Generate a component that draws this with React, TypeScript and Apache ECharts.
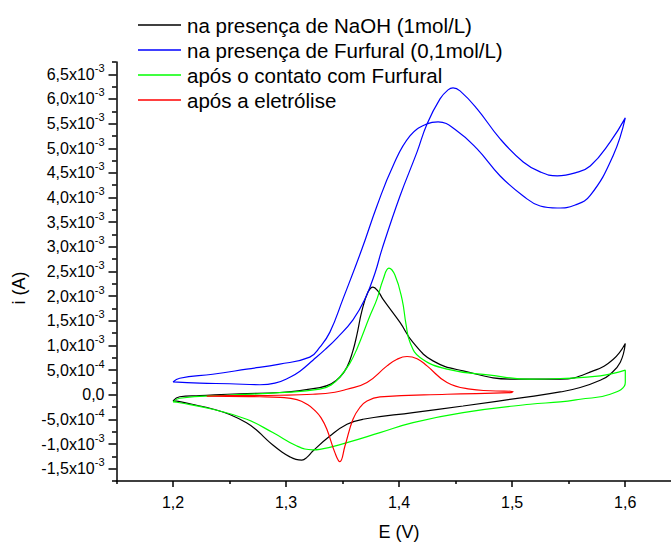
import React, { useEffect, useRef } from "react";
import * as echarts from "echarts";

// E (V), i (A)
const naohCurve: [number, number][] = [
  [1.2, -0.126e-3], [1.2059, -0.041e-3], [1.2236, -0.02e-3], [1.2591, 0.02e-3], [1.2945, 0.045e-3],
  [1.3299, 0.146e-3], [1.34, 0.22e-3], [1.3477, 0.36e-3], [1.3539, 0.56e-3], [1.359, 0.88e-3],
  [1.3627, 1.22e-3], [1.3671, 1.7e-3],
  [1.3725, 2.082e-3], [1.3769, 2.184e-3], [1.3813, 2.102e-3], [1.3857, 1.94e-3], [1.4008, 1.467e-3],
  [1.4123, 1.06e-3], [1.43, 0.687e-3], [1.4566, 0.483e-3], [1.5009, 0.315e-3], [1.5425, 0.315e-3],
  [1.5717, 0.483e-3], [1.5895, 0.721e-3], [1.6001, 1.04e-3],
  [1.5957, 0.66e-3], [1.5868, 0.416e-3], [1.5779, 0.295e-3], [1.5602, 0.146e-3], [1.5425, 0.057e-3],
  [1.5159, -0.037e-3], [1.4566, -0.228e-3], [1.4123, -0.362e-3], [1.368, -0.498e-3], [1.3539, -0.599e-3],
  [1.3388, -0.837e-3], [1.3237, -1.142e-3], [1.3184, -1.27e-3], [1.314, -1.325e-3], [1.3087, -1.31e-3],
  [1.3034, -1.26e-3], [1.2963, -1.16e-3], [1.2883, -1.02e-3], [1.281, -0.87e-3], [1.2741, -0.72e-3],
  [1.265, -0.57e-3], [1.2502, -0.4e-3], [1.235, -0.29e-3], [1.2209, -0.213e-3], [1.2059, -0.14e-3],
  [1.2, -0.126e-3],
];

const furfuralCurve: [number, number][] = [
  [1.2, 0.26e-3], [1.2236, 0.234e-3], [1.2502, 0.223e-3], [1.2768, 0.203e-3], [1.2901, 0.234e-3],
  [1.3034, 0.355e-3], [1.3123, 0.477e-3], [1.3238, 0.701e-3], [1.3344, 0.915e-3], [1.345, 1.15e-3],
  [1.3592, 1.52e-3], [1.3698, 1.94e-3], [1.3787, 2.47e-3], [1.3849, 2.955e-3], [1.4008, 4.032e-3],
  [1.4159, 4.926e-3], [1.4247, 5.494e-3], [1.4362, 6.002e-3], [1.4433, 6.185e-3], [1.4477, 6.226e-3],
  [1.4539, 6.165e-3], [1.469, 5.8e-3], [1.4894, 5.19e-3], [1.5098, 4.723e-3], [1.5248, 4.52e-3],
  [1.5399, 4.439e-3], [1.5558, 4.5e-3], [1.5691, 4.641e-3], [1.5868, 5.129e-3], [1.6001, 5.616e-3],
  [1.5894, 4.854e-3], [1.5691, 4.042e-3], [1.5558, 3.849e-3], [1.5399, 3.788e-3], [1.5248, 3.829e-3],
  [1.5098, 4.032e-3], [1.4894, 4.438e-3], [1.469, 4.987e-3], [1.4513, 5.352e-3], [1.4345, 5.535e-3],
  [1.4247, 5.494e-3], [1.4096, 5.251e-3], [1.3946, 4.642e-3], [1.3804, 3.83e-3], [1.3671, 2.955e-3],
  [1.3503, 1.94e-3], [1.3388, 1.27e-3], [1.3299, 0.965e-3], [1.321, 0.762e-3], [1.2944, 0.62e-3],
  [1.2652, 0.518e-3], [1.2351, 0.416e-3], [1.2059, 0.335e-3], [1.2, 0.26e-3],
];

const contactCurve: [number, number][] = [
  [1.2, -0.146e-3], [1.2059, -0.071e-3], [1.2476, -0.01e-3], [1.2945, 0.041e-3], [1.3299, 0.112e-3],
  [1.34, 0.2e-3], [1.3476, 0.36e-3], [1.356, 0.62e-3], [1.3627, 0.93e-3], [1.3742, 1.601e-3],
  [1.3804, 1.94e-3], [1.3857, 2.326e-3],
  [1.391, 2.57e-3], [1.3963, 2.427e-3], [1.4026, 1.94e-3], [1.4061, 1.432e-3], [1.4097, 1.06e-3],
  [1.4185, 0.756e-3], [1.4424, 0.518e-3], [1.4805, 0.396e-3], [1.5159, 0.315e-3], [1.5425, 0.329e-3],
  [1.5779, 0.382e-3], [1.6001, 0.498e-3],
  [1.6001, 0.248e-3], [1.5868, 0.01e-3], [1.5602, -0.091e-3], [1.5425, -0.146e-3], [1.5159, -0.193e-3],
  [1.4566, -0.362e-3], [1.4123, -0.565e-3], [1.3831, -0.768e-3], [1.3539, -0.971e-3], [1.3299, -1.107e-3],
  [1.3238, -1.117e-3], [1.3096, -1.04e-3], [1.2883, -0.768e-3], [1.2652, -0.498e-3], [1.2351, -0.295e-3],
  [1.2059, -0.162e-3], [1.2, -0.146e-3],
];

const electrolysisCurve: [number, number][] = [
  [1.2298, -0.03e-3], [1.2502, -0.02e-3], [1.2945, -0.01e-3], [1.3237, 0.01e-3], [1.3432, 0.051e-3],
  [1.3539, 0.112e-3], [1.3716, 0.248e-3], [1.3893, 0.585e-3], [1.3982, 0.721e-3], [1.407, 0.776e-3],
  [1.4159, 0.731e-3], [1.4247, 0.585e-3], [1.4424, 0.248e-3], [1.4628, 0.112e-3], [1.4805, 0.081e-3],
  [1.5009, 0.065e-3],
  [1.4982, 0.041e-3], [1.4424, 0.01e-3], [1.3831, -0.045e-3], [1.3716, -0.126e-3], [1.3654, -0.254e-3],
  [1.3592, -0.498e-3], [1.3521, -1.04e-3], [1.3476, -1.357e-3], [1.3432, -1.174e-3], [1.3361, -0.701e-3],
  [1.331, -0.47e-3], [1.3255, -0.32e-3], [1.319, -0.2e-3], [1.3096, -0.1e-3], [1.295, -0.055e-3],
  [1.2768, -0.041e-3], [1.2298, -0.03e-3],
];

const seriesNames = [
  "na presença de NaOH (1mol/L)",
  "na presença de Furfural (0,1mol/L)",
  "após o contato com Furfural",
  "após a eletrólise",
];
const seriesColors = ["#000000", "#0000ff", "#00ff00", "#ff0000"];

const xAxisTitle = "E (V)";
const yAxisTitle = "i (A)";
const xMajorTicks = [1.2, 1.3, 1.4, 1.5, 1.6];
const xMinorTicks = [1.15, 1.25, 1.35, 1.45, 1.55, 1.65];
const yMajorTicks = [
  -1.5e-3, -1.0e-3, -0.5e-3, 0, 0.5e-3, 1.0e-3, 1.5e-3, 2.0e-3, 2.5e-3, 3.0e-3, 3.5e-3, 4.0e-3,
  4.5e-3, 5.0e-3, 5.5e-3, 6.0e-3, 6.5e-3,
];
const yMinorTicks = [
  -1.75e-3, -1.25e-3, -0.75e-3, -0.25e-3, 0.25e-3, 0.75e-3, 1.25e-3, 1.75e-3, 2.25e-3, 2.75e-3,
  3.25e-3, 3.75e-3, 4.25e-3, 4.75e-3, 5.25e-3, 5.75e-3, 6.25e-3, 6.75e-3,
];

const FONT = "'Liberation Sans', Arial, sans-serif";

function yLabel(v: number): string {
  if (Math.abs(v) < 1e-12) return "{n|0,0}";
  const exp = Math.floor(Math.log10(Math.abs(v)) + 1e-9);
  const mant = Math.round((v / Math.pow(10, exp)) * 10) / 10;
  return `{n|${mant.toFixed(1).replace(".", ",")}x10}{s|${exp}}`;
}

export default function App() {
  const ref = useRef<HTMLDivElement>(null);
  useEffect(() => {
    if (!ref.current) return;
    const chart = echarts.init(ref.current, null, { renderer: "svg" });
    const curves = [naohCurve, furfuralCurve, contactCurve, electrolysisCurve];
    chart.setOption({
      animation: false,
      backgroundColor: "#ffffff",
      textStyle: { fontFamily: FONT },
      legend: {
        orient: "vertical",
        left: 133,
        top: 9,
        icon: "rect",
        itemWidth: 43,
        itemHeight: 1.5,
        itemGap: 3,
        data: seriesNames.map((n, k) => ({ name: n, itemStyle: { color: seriesColors[k] } })),
        textStyle: { fontFamily: FONT, fontSize: 20.5, color: "#000", lineHeight: 22, padding: [0, 0, 0, 1] },
      },
      graphic: [
        {
          type: "text",
          x: 19,
          y: 288,
          rotation: Math.PI / 2,
          style: {
            text: yAxisTitle,
            fontFamily: FONT,
            fontSize: 18,
            fill: "#000",
            align: "center",
            verticalAlign: "middle",
          },
        },
      ],
      grid: { left: 116.5, right: -10.7, top: 62, bottom: 62, containLabel: false, outerBoundsMode: "none" },
      xAxis: [
        {
          type: "value",
          min: 1.15,
          max: 1.65,
          position: "bottom",
          name: xAxisTitle,
          nameLocation: "middle",
          nameGap: 42,
          nameTextStyle: { fontFamily: FONT, fontSize: 18, color: "#000" },
          axisLine: { show: true, onZero: false, lineStyle: { color: "#000", width: 1.5 } },
          axisTick: { show: true, length: 6, customValues: xMajorTicks, lineStyle: { color: "#000", width: 1.5 } },
          axisLabel: {
            customValues: xMajorTicks,
            margin: 13,
            fontFamily: FONT,
            fontSize: 16,
            color: "#000",
            formatter: (v: number) => v.toFixed(1).replace(".", ","),
          },
          splitLine: { show: false },
        },
        {
          type: "value",
          min: 1.15,
          max: 1.65,
          position: "bottom",
          axisLine: { show: false, onZero: false },
          axisTick: { show: true, length: 3, customValues: xMinorTicks, lineStyle: { color: "#000", width: 1.5 } },
          axisLabel: { show: false },
          splitLine: { show: false },
        },
      ],
      yAxis: [
        {
          type: "value",
          min: -1.75e-3,
          max: 6.75e-3,
          position: "left",
          axisLine: { show: true, onZero: false, lineStyle: { color: "#000", width: 1.5 } },
          axisTick: { show: true, length: 8, customValues: yMajorTicks, lineStyle: { color: "#000", width: 1.5 } },
          axisLabel: {
            customValues: yMajorTicks,
            margin: 12,
            padding: [0, 0, 4, 0],
            formatter: yLabel,
            rich: {
              n: { fontFamily: FONT, fontSize: 16, color: "#000", lineHeight: 20, verticalAlign: "bottom" },
              s: { fontFamily: FONT, fontSize: 11, color: "#000", lineHeight: 11, verticalAlign: "top" },
            },
          },
          splitLine: { show: false },
        },
        {
          type: "value",
          min: -1.75e-3,
          max: 6.75e-3,
          position: "left",
          axisLine: { show: false, onZero: false },
          axisTick: { show: true, length: 4.5, customValues: yMinorTicks, lineStyle: { color: "#000", width: 1.5 } },
          axisLabel: { show: false },
          splitLine: { show: false },
        },
      ],
      series: curves.map((c, k) => ({
        name: seriesNames[k],
        type: "line",
        data: c,
        xAxisIndex: 0,
        yAxisIndex: 0,
        symbol: "none",
        showSymbol: false,
        smooth: 0.45,
        color: seriesColors[k],
        lineStyle: { color: seriesColors[k], width: 1.2 },
      })),
    });
    return () => chart.dispose();
  }, []);
  return (
    <div
      ref={ref}
      style={{ position: "fixed", left: 0, top: 0, width: 671, height: 543, background: "#fff" }}
    />
  );
}
